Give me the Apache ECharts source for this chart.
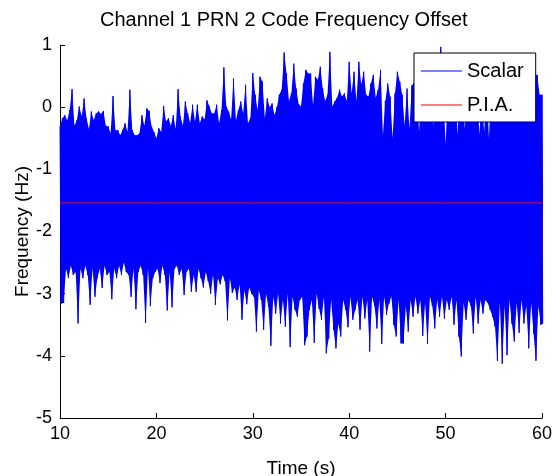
<!DOCTYPE html>
<html><head><meta charset="utf-8">
<script src="https://cdn.jsdelivr.net/npm/echarts@6/dist/echarts.min.js"></script>
<style>html,body{margin:0;padding:0;background:#fff}#c{width:553px;height:476px}</style>
</head><body><div id="c"></div>
<script>
const chartTitle = 'Channel 1 PRN 2 Code Frequency Offset';
const xName = 'Time (s)';
const yName = 'Frequency (Hz)';
const xTicks = [10, 20, 30, 40, 50, 60];
const yTicks = [-5, -4, -3, -2, -1, 0, 1];
const seriesNames = ['Scalar', 'P.I.A.'];
// Scalar signal envelope, one pair every 0.25 s from 10 s to 60 s
const sampleStart = 10;
const sampleStep = 0.25;
const scalarHigh = [
 -0.31,-0.18,-0.13,-0.21, -0.05,0.29,-0.30,-0.21, 0.01,-0.15,0.14,-0.18, -0.35,-0.07,-0.21,-0.10,
 -0.07,-0.11,-0.06,-0.30, -0.31,-0.42,0.18,-0.37, -0.37,-0.45,-0.37,-0.26, -0.40,0.28,-0.37,-0.45,
 -0.45,-0.42,-0.13,-0.30, -0.02,-0.06,-0.31,-0.40, -0.50,-0.34,-0.40,0.02, -0.23,-0.18,-0.30,-0.13,
 -0.35,0.29,-0.15,-0.30, 0.09,-0.10,-0.25,0.04, -0.23,0.04,-0.26,-0.15, -0.20,0.11,0.01,-0.10,
 -0.10,0.04,-0.26,-0.05, 0.64,0.01,-0.07,-0.20, 0.46,-0.21,-0.05,0.09, -0.10,0.36,-0.26,-0.18,
 0.55,0.20,-0.05,0.49, 0.41,-0.18,0.14,0.00, 0.06,-0.13,0.00,0.20, 0.28,0.88,0.54,0.10,
 0.22,0.70,0.30,0.05, 0.01,0.38,0.60,0.54, 0.54,0.03,0.49,0.44, 0.65,0.30,0.10,0.20,
 0.89,0.01,0.09,0.15, 0.28,0.17,0.22,0.10, 0.73,0.22,0.57,0.10, 0.73,0.36,0.57,0.20,
 0.17,0.38,0.52,0.15, 0.28,0.60,-0.45,0.10, 0.38,0.17,-0.50,0.22, 0.57,0.41,0.20,-0.30,
 0.30,-0.35,0.35,0.40, 0.30,-0.40,0.45,0.20, 0.50,0.15,0.35,-0.30, 0.40,0.25,0.97,0.30,
 -0.60,0.30,0.50,0.20, 0.35,-0.45,0.60,0.30, -0.35,0.40,0.25,0.55, 0.30,0.45,-0.45,0.20,
 -0.40,0.35,-0.50,0.50, 0.30,0.60,0.25,0.45, 0.50,0.30,0.55,0.20, 0.40,0.65,0.30,0.50,
 0.35,0.55,0.25,0.45, 0.30,0.50,0.52,0.20, 0.20
];
const scalarLow = [
 -3.16,-3.15,-2.60,-2.75, -2.55,-2.70,-2.65,-3.48, -2.60,-2.75,-2.55,-2.70, -3.18,-2.60,-3.05,-2.75,
 -2.60,-2.91,-2.55,-2.70, -2.65,-3.09,-2.60,-2.75, -2.55,-2.70,-2.50,-2.65, -2.70,-3.05,-2.60,-3.25,
 -2.65,-2.55,-2.70,-3.47, -2.60,-3.20,-2.75,-2.65, -2.60,-2.83,-2.55,-2.70, -3.27,-2.65,-3.22,-2.60,
 -2.55,-2.70,-2.60,-3.02, -2.65,-2.60,-2.97,-2.70, -2.97,-2.60,-2.75,-2.90, -2.65,-2.80,-3.00,-2.70,
 -3.18,-2.75,-2.85,-2.70, -2.80,-3.43,-2.75,-2.99, -2.90,-3.10,-2.85,-3.42, -2.95,-3.17,-2.90,-3.00,
 -3.05,-3.61,-2.95,-3.10, -3.58,-3.00,-3.21,-3.84, -3.05,-3.32,-3.00,-3.48, -3.10,-3.53,-3.00,-3.86,
 -3.05,-3.26,-3.37,-3.10, -3.05,-3.83,-3.69,-3.26, -3.10,-3.79,-3.00,-3.24, -3.42,-3.05,-3.96,-3.72,
 -3.10,-3.58,-3.88,-3.48, -3.69,-3.10,-3.26,-3.54, -3.05,-3.42,-3.26,-3.10, -3.58,-3.05,-3.40,-3.10,
 -3.93,-3.05,-3.20,-3.56, -3.10,-3.81,-3.05,-3.34, -3.16,-3.05,-3.50,-3.69, -3.10,-3.80,-3.80,-3.20,
 -3.61,-3.10,-3.37,-3.05, -3.32,-3.10,-3.68,-3.15, -3.81,-3.05,-3.20,-3.56, -3.10,-3.37,-3.05,-3.40,
 -3.10,-3.26,-3.05,-3.50, -3.10,-3.69,-4.01,-3.15, -3.42,-3.10,-3.20,-3.64, -3.05,-3.48,-3.10,-3.32,
 -3.10,-3.15,-3.26,-3.37, -3.53,-4.08,-3.15,-4.13, -3.20,-3.99,-3.10,-3.48, -3.77,-3.15,-3.63,-3.10,
 -3.48,-3.20,-3.88,-3.15, -3.64,-4.08,-3.20,-3.50, -3.48
];
const piaTimes = [10, 20, 30, 40, 50, 60];
const piaValues = [-1.54, -1.54, -1.54, -1.54, -1.54, -1.54];

const FONT = 'Liberation Sans, Arial, Helvetica, sans-serif';

// Scalar trace: alternate between each sample's high and low reading
const scalarData = [];
for (let i = 0; i < scalarHigh.length; i++) {
  const t = sampleStart + i * sampleStep;
  scalarData.push([t, scalarHigh[i]]);
  scalarData.push([t + sampleStep / 2, scalarLow[i]]);
}
const piaData = piaTimes.map((t, i) => [t, piaValues[i]]);

const chart = echarts.init(document.getElementById('c'), null, {renderer: 'canvas'});
chart.setOption({
  animation: false,
  backgroundColor: '#ffffff',
  graphic: [{
    type: 'text', left: 100, top: 10,
    style: {text: chartTitle, font: '20px ' + FONT, fill: '#000'}
  }],
  grid: {left: 60, top: 45, width: 482, height: 373, containLabel: false, outerBoundsMode: 'none'},
  legend: {
    left: 414, top: 53,
    orient: 'vertical',
    backgroundColor: '#ffffff',
    borderColor: '#000000', borderWidth: 1, borderRadius: 0,
    padding: [8, 12, 7, 7],
    itemWidth: 41, itemHeight: 14, itemGap: 14,
    textStyle: {fontSize: 20, fontFamily: FONT, color: '#000'},
    data: seriesNames.map(n => ({name: n, icon: 'path://M0,7L41,7L41,8L0,8Z'}))
  },
  xAxis: {
    type: 'value', min: xTicks[0], max: xTicks[xTicks.length - 1], interval: 10,
    name: xName, nameLocation: 'middle', nameGap: 41, nameMoveOverlap: false,
    nameTextStyle: {fontSize: 19, fontFamily: FONT, color: '#000'},
    axisLine: {onZero: false, lineStyle: {color: '#000', width: 1}},
    axisTick: {inside: true, length: 5, lineStyle: {color: '#000'}},
    axisLabel: {margin: 7, fontSize: 18, fontFamily: FONT, color: '#000'},
    splitLine: {show: false}
  },
  yAxis: {
    type: 'value', min: yTicks[0], max: yTicks[yTicks.length - 1], interval: 1,
    name: yName, nameLocation: 'middle', nameGap: 28, nameMoveOverlap: false,
    nameTextStyle: {fontSize: 19, fontFamily: FONT, color: '#000'},
    axisLine: {show: true, onZero: false, lineStyle: {color: '#000', width: 1}},
    axisTick: {show: true, inside: true, length: 5, lineStyle: {color: '#000'}},
    axisLabel: {margin: 8, fontSize: 18, fontFamily: FONT, color: '#000'},
    splitLine: {show: false}
  },
  series: [
    {
      // filled body of the Scalar trace: polygon over the high readings and back along the low readings
      type: 'custom', silent: true, z: 1,
      data: [0],
      renderItem: function (params, api) {
        const pts = [];
        for (let i = 0; i < scalarHigh.length; i++) {
          pts.push(api.coord([sampleStart + i * sampleStep, scalarHigh[i]]));
        }
        for (let i = scalarLow.length - 1; i >= 0; i--) {
          pts.push(api.coord([sampleStart + i * sampleStep + sampleStep / 2, scalarLow[i]]));
        }
        return {type: 'polygon', shape: {points: pts}, style: {fill: '#0000ff', stroke: null}};
      },
      tooltip: {show: false}
    },
    {
      name: seriesNames[0], type: 'line', data: scalarData,
      symbol: 'none', showSymbol: false, sampling: null,
      lineStyle: {color: '#0000ff', width: 1},
      itemStyle: {color: '#0000ff'}, z: 2
    },
    {
      name: seriesNames[1], type: 'line', data: piaData,
      symbol: 'none', showSymbol: false,
      lineStyle: {color: '#ff0000', width: 1},
      itemStyle: {color: '#ff0000'}, z: 3
    }
  ]
});
</script>
</body></html>
